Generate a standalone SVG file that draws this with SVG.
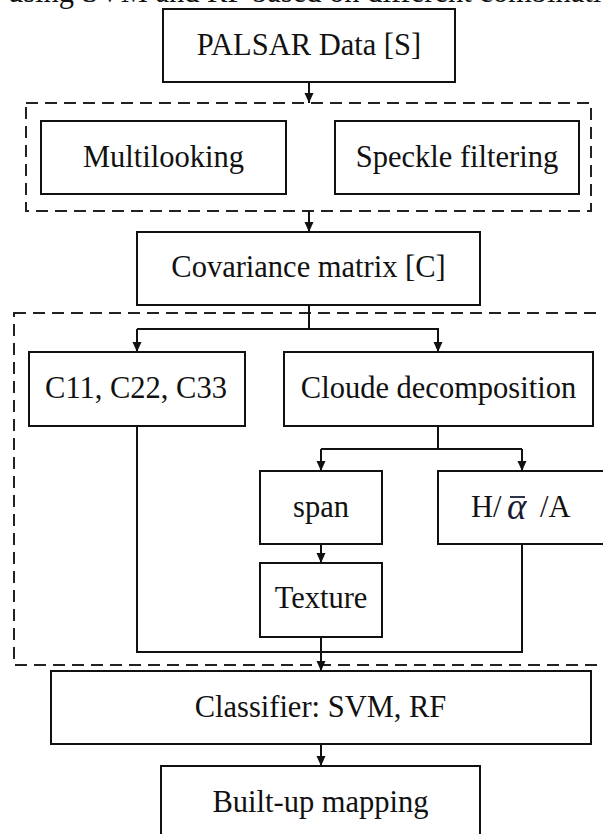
<svg xmlns="http://www.w3.org/2000/svg" width="603" height="834" viewBox="0 0 603 834">
<defs>
<style>
.box{fill:#fff;stroke:#111;stroke-width:2}
.dash{fill:none;stroke:#222;stroke-width:2;stroke-dasharray:12,7}
.t{font-family:"Liberation Serif","Times New Roman",serif;font-size:30.5px;fill:#111;text-anchor:middle}
.c{fill:none;stroke:#111;stroke-width:2}
</style>
<marker id="ah" viewBox="0 0 10 10" refX="10" refY="5" markerWidth="10" markerHeight="10" markerUnits="userSpaceOnUse" orient="auto">
<path d="M0,0.5 L10,5 L0,9.5 Z" fill="#111"/>
</marker>
</defs>
<rect width="603" height="834" fill="#fff"/>
<text x="8" y="2" style="font-family:'Liberation Serif','Times New Roman',serif;font-size:30.5px;fill:#111">using SVM and RF based on different combinations</text>

<g id="group-preprocessing">
<rect class="dash" x="26" y="103" width="565" height="108"/>
</g>
<g id="group-features">
<rect class="dash" x="14" y="313" width="600" height="352"/>
</g>

<g id="connectors">
<line class="c" x1="309" y1="82" x2="309" y2="103" marker-end="url(#ah)"/>
<line class="c" x1="309" y1="211" x2="309" y2="232" marker-end="url(#ah)"/>
<polyline class="c" points="309,305 309,329"/>
<polyline class="c" points="137,329 438,329 438,352" marker-end="url(#ah)"/>
<line class="c" x1="137" y1="329" x2="137" y2="352" marker-end="url(#ah)"/>
<polyline class="c" points="438,426 438,449"/>
<polyline class="c" points="321,449 522,449"/>
<line class="c" x1="321" y1="449" x2="321" y2="471" marker-end="url(#ah)"/>
<line class="c" x1="522" y1="449" x2="522" y2="471" marker-end="url(#ah)"/>
<line class="c" x1="321" y1="544" x2="321" y2="563" marker-end="url(#ah)"/>
<polyline class="c" points="137,426 137,652 522,652 522,544"/>
<line class="c" x1="321" y1="637" x2="321" y2="671" marker-end="url(#ah)"/>
<line class="c" x1="321" y1="744" x2="321" y2="766" marker-end="url(#ah)"/>
</g>

<g id="palsar">
<rect class="box" x="163" y="9" width="292" height="73"/>
<text class="t" x="309" y="55">PALSAR Data [S]</text>
</g>
<g id="multilooking">
<rect class="box" x="41" y="121" width="245" height="73"/>
<text class="t" x="163.5" y="167">Multilooking</text>
</g>
<g id="speckle">
<rect class="box" x="335" y="121" width="244" height="73"/>
<text class="t" x="457" y="167">Speckle filtering</text>
</g>
<g id="covariance">
<rect class="box" x="137" y="232" width="343" height="73"/>
<text class="t" x="308.5" y="277">Covariance matrix [C]</text>
</g>
<g id="c11">
<rect class="box" x="29" y="352" width="216" height="74"/>
<text class="t" x="136" y="398">C11, C22, C33</text>
</g>
<g id="cloude">
<rect class="box" x="284" y="352" width="309" height="74"/>
<text class="t" x="438.5" y="398">Cloude decomposition</text>
</g>
<g id="span">
<rect class="box" x="260" y="471" width="122" height="73"/>
<text class="t" x="321" y="517">span</text>
</g>
<g id="halpha">
<rect class="box" x="438" y="471" width="170" height="73"/>
<text class="t" y="517" style="text-anchor:start"><tspan x="471">H/</tspan><tspan x="507" y="519" style="font-style:italic;font-size:37px;fill:#1a1a33">α</tspan><tspan x="540" y="517">/A</tspan></text>
<line x1="510" y1="497" x2="525" y2="497" stroke="#1a1a33" stroke-width="1.8"/>
</g>
<g id="texture">
<rect class="box" x="260" y="563" width="122" height="74"/>
<text class="t" x="321" y="608">Texture</text>
</g>
<g id="classifier">
<rect class="box" x="51" y="671" width="540" height="73"/>
<text class="t" x="320.5" y="717">Classifier: SVM, RF</text>
</g>
<g id="builtup">
<rect class="box" x="161" y="766" width="319" height="80"/>
<text class="t" x="320.5" y="812">Built-up mapping</text>
</g>
</svg>
